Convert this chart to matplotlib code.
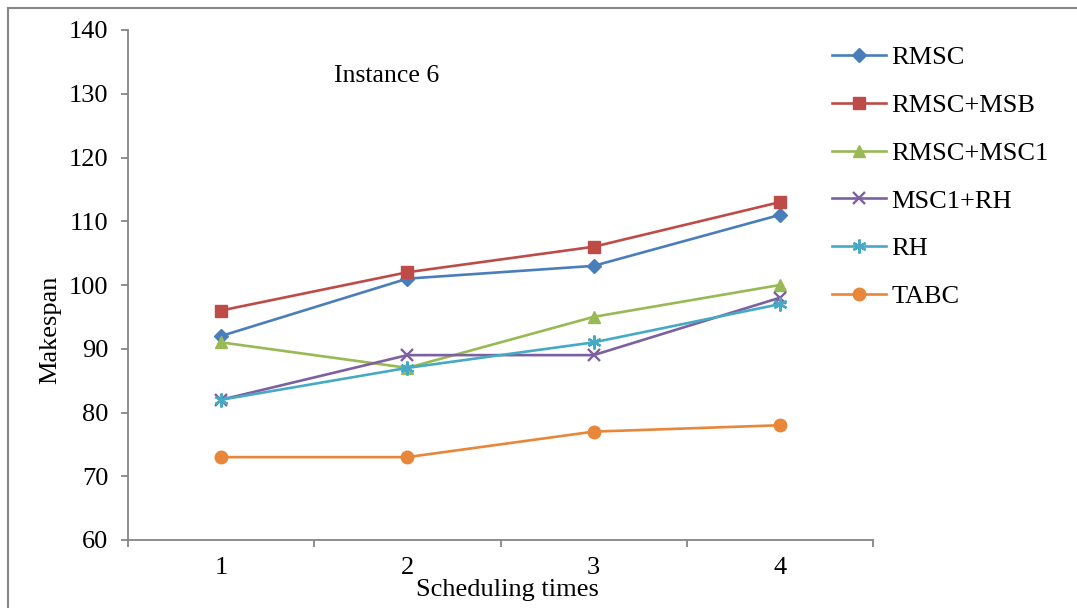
import matplotlib
matplotlib.use("Agg")
import matplotlib.pyplot as plt
from matplotlib.lines import Line2D

categories = ["1", "2", "3", "4"]
series_names = ["RMSC", "RMSC+MSB", "RMSC+MSC1", "MSC1+RH", "RH", "TABC"]
rmsc = [92, 101, 103, 111]
rmsc_msb = [96, 102, 106, 113]
rmsc_msc1 = [91, 87, 95, 100]
msc1_rh = [82, 89, 89, 98]
rh = [82, 87, 91, 97]
tabc = [73, 73, 77, 78]
y_ticks = [60, 70, 80, 90, 100, 110, 120, 130, 140]

values = [rmsc, rmsc_msb, rmsc_msc1, msc1_rh, rh, tabc]
colors = ["#4A7EBB", "#BE4B48", "#98B954", "#7D60A0", "#46AAC5", "#E8863A"]
markers = ["D", "s", "^", "x", (6, 2, 0), "o"]
msizes = [7, 8.5, 9, 9, 10, 9]

plt.rcParams['font.family'] = ['Liberation Serif', 'DejaVu Serif']
FS = 19

fig = plt.figure(figsize=(10.77, 6.08), dpi=100)
ax = fig.add_axes([128/1077, 1-540/608, (873-128)/1077, (540-30)/608])

x = list(range(len(categories)))
for vals, name, c, m, ms in zip(values, series_names, colors, markers, msizes):
    mew = 1.7 if m in ("x", (6, 2, 0)) else 1
    ax.plot(x, vals, color=c, lw=1.9, marker=m, ms=ms, mec=c, mfc=c, mew=mew, label=name)

ax.set_xlim(-0.5, len(categories) - 0.5)
ax.set_ylim(60, 140)
ax.set_yticks(y_ticks)
ax.set_xticks(x)
ax.set_xticklabels(categories)
ax.set_xticks([i - 0.5 for i in range(len(categories) + 1)], minor=True)
ax.tick_params(axis='x', which='major', length=0, pad=12, labelsize=FS)
ax.tick_params(axis='x', which='minor', length=5, width=1.3, color="#868686", direction='out')
ax.tick_params(axis='y', length=5, width=1.3, color="#868686", pad=9, labelsize=FS, direction='out')
for s in ("top", "right"):
    ax.spines[s].set_visible(False)
for s in ("left", "bottom"):
    ax.spines[s].set_color("#868686")
    ax.spines[s].set_linewidth(1.3)

fig.text(334/1077, 1-76/608, "Instance 6", fontsize=FS - 0.5, ha='left', va='center')
fig.text(50/1077, 1-330/608, "Makespan", fontsize=FS, rotation=90, ha='center', va='center')
fig.text(507/1077, 1-590/608, "Scheduling times", fontsize=FS, ha='center', va='center')

handles, labels = ax.get_legend_handles_labels()
leg = fig.legend(handles, labels, loc='upper left', bbox_to_anchor=(832/1077, 1-46/608),
                 frameon=False, fontsize=FS, labelspacing=0.92, handlelength=2.05,
                 handletextpad=0.2, borderaxespad=0, borderpad=0)

# figure border (top and left visible)
fig.add_artist(Line2D([8/1077, 1], [1-8/608, 1-8/608], color="#868686", lw=1.5, transform=fig.transFigure))
fig.add_artist(Line2D([8/1077, 8/1077], [0, 1-8/608], color="#868686", lw=1.5, transform=fig.transFigure))

fig.savefig("out.png", dpi=100, facecolor="white")
